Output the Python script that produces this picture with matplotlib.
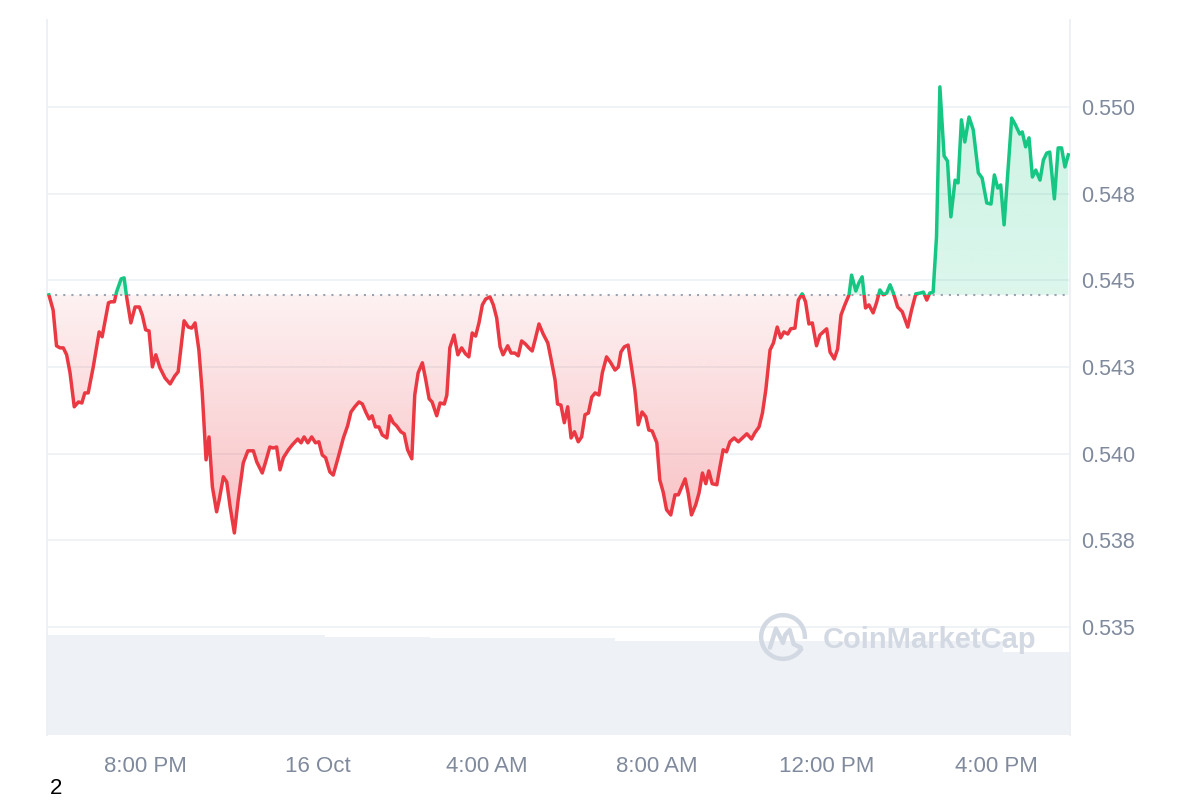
import numpy as np
import matplotlib
matplotlib.use("Agg")
import matplotlib.pyplot as plt
from matplotlib.patches import Rectangle, Arc
from matplotlib.path import Path

# time in hours since 15 Oct 00:00, price in USD
hours = [
    17.56, 17.66, 17.74, 17.82, 17.90, 17.98, 18.06, 18.16, 18.26, 18.34,
    18.41, 18.49, 18.61, 18.75, 18.82, 18.97, 19.03, 19.11, 19.16, 19.27,
    19.34, 19.40, 19.50, 19.60, 19.70, 19.77, 19.85, 19.93, 20.01, 20.09,
    20.19, 20.31, 20.43, 20.54, 20.62, 20.76, 20.86, 20.94, 21.02, 21.11,
    21.19, 21.28, 21.35, 21.43, 21.53, 21.59, 21.69, 21.77, 21.85, 21.95,
    22.04, 22.16, 22.27, 22.40, 22.48, 22.61, 22.69, 22.79, 22.87, 22.95,
    23.03, 23.11, 23.23, 23.32, 23.45, 23.53, 23.60, 23.69, 23.78, 23.87,
    23.95, 24.03, 24.11, 24.21, 24.29, 24.41, 24.53, 24.63, 24.71, 24.80,
    24.90, 24.98, 25.06, 25.14, 25.21, 25.29, 25.37, 25.45, 25.56, 25.63,
    25.71, 25.79, 25.89, 25.97, 26.05, 26.15, 26.22, 26.30, 26.40, 26.48,
    26.56, 26.63, 26.74, 26.82, 26.92, 26.98, 27.05, 27.15, 27.24, 27.33,
    27.42, 27.50, 27.58, 27.66, 27.74, 27.82, 27.90, 28.00, 28.08, 28.16,
    28.24, 28.31, 28.42, 28.50, 28.59, 28.67, 28.75, 28.84, 28.92, 29.00,
    29.08, 29.16, 29.26, 29.37, 29.46, 29.54, 29.60, 29.68, 29.76, 29.84,
    29.92, 30.00, 30.09, 30.17, 30.25, 30.33, 30.41, 30.49, 30.58, 30.66,
    30.76, 30.86, 30.96, 31.04, 31.10, 31.18, 31.27, 31.35, 31.43, 31.51,
    31.60, 31.69, 31.76, 31.84, 31.95, 32.02, 32.10, 32.18, 32.28, 32.38,
    32.46, 32.54, 32.62, 32.69, 32.77, 32.87, 32.95, 33.03, 33.11, 33.18,
    33.26, 33.37, 33.44, 33.52, 33.60, 33.68, 33.78, 33.88, 34.00, 34.08,
    34.19, 34.27, 34.37, 34.45, 34.53, 34.63, 34.71, 34.80, 34.88, 34.96,
    35.05, 35.12, 35.22, 35.30, 35.39, 35.47, 35.55, 35.63, 35.73, 35.81,
    35.97, 36.05, 36.15, 36.23, 36.31, 36.40, 36.50, 36.56, 36.66, 36.73,
    36.81, 36.89, 36.97, 37.07, 37.15, 37.23, 37.31, 37.39, 37.47, 37.55,
    37.65, 37.76, 37.89, 37.98, 38.08, 38.18, 38.26, 38.34, 38.41, 38.49,
    38.57, 38.65, 38.75, 38.83, 38.91, 39.01, 39.08, 39.16, 39.24, 39.34,
    39.44, 39.56, 39.65, 39.76, 39.86, 39.94, 40.02, 40.09, 40.17, 40.35,
    40.44, 40.54, 40.60, 40.68, 40.76, 40.84, 40.92, 41.02, 41.10, 41.18,
    41.25, 41.36, 41.45, 41.53, 41.61, 41.69,
]
price = [
    0.54458, 0.54414, 0.54311, 0.54305, 0.54305, 0.54285, 0.54233, 0.54135, 0.54149, 0.54146,
    0.54175, 0.54175, 0.54250, 0.54351, 0.54337, 0.54435, 0.54438, 0.54438, 0.54466, 0.54504,
    0.54507, 0.54452, 0.54377, 0.54423, 0.54423, 0.54400, 0.54357, 0.54354, 0.54250, 0.54285,
    0.54247, 0.54218, 0.54201, 0.54224, 0.54236, 0.54383, 0.54365, 0.54362, 0.54377, 0.54299,
    0.54175, 0.53982, 0.54048, 0.53904, 0.53832, 0.53866, 0.53933, 0.53918, 0.53846, 0.53771,
    0.53866, 0.53973, 0.54008, 0.54008, 0.53976, 0.53944, 0.53976, 0.54019, 0.54016, 0.54019,
    0.53953, 0.53988, 0.54011, 0.54025, 0.54042, 0.54031, 0.54048, 0.54031, 0.54048, 0.54031,
    0.54034, 0.53996, 0.53988, 0.53947, 0.53938, 0.53990, 0.54045, 0.54080, 0.54120, 0.54135,
    0.54149, 0.54143, 0.54120, 0.54100, 0.54109, 0.54077, 0.54077, 0.54054, 0.54045, 0.54109,
    0.54089, 0.54080, 0.54063, 0.54057, 0.54011, 0.53985, 0.54169, 0.54233, 0.54262, 0.54213,
    0.54158, 0.54149, 0.54109, 0.54146, 0.54143, 0.54169, 0.54305, 0.54342, 0.54285, 0.54305,
    0.54288, 0.54279, 0.54348, 0.54339, 0.54377, 0.54429, 0.54446, 0.54452, 0.54429, 0.54391,
    0.54308, 0.54285, 0.54311, 0.54290, 0.54290, 0.54282, 0.54325, 0.54316, 0.54305, 0.54296,
    0.54334, 0.54374, 0.54345, 0.54319, 0.54264, 0.54213, 0.54143, 0.54140, 0.54089, 0.54135,
    0.54045, 0.54063, 0.54034, 0.54048, 0.54112, 0.54117, 0.54163, 0.54175, 0.54169, 0.54233,
    0.54279, 0.54262, 0.54241, 0.54250, 0.54293, 0.54308, 0.54313, 0.54250, 0.54184, 0.54083,
    0.54120, 0.54106, 0.54068, 0.54065, 0.54031, 0.53924, 0.53889, 0.53838, 0.53823, 0.53881,
    0.53881, 0.53904, 0.53927, 0.53887, 0.53823, 0.53852, 0.53887, 0.53944, 0.53913, 0.53950,
    0.53913, 0.53910, 0.53959, 0.54011, 0.54005, 0.54034, 0.54045, 0.54034, 0.54048, 0.54057,
    0.54042, 0.54060, 0.54077, 0.54117, 0.54184, 0.54299, 0.54319, 0.54365, 0.54334, 0.54351,
    0.54345, 0.54360, 0.54362, 0.54443, 0.54461, 0.54438, 0.54374, 0.54377, 0.54311, 0.54342,
    0.54360, 0.54293, 0.54273, 0.54302, 0.54400, 0.54429, 0.54458, 0.54515, 0.54469, 0.54492,
    0.54510, 0.54420, 0.54429, 0.54406, 0.54435, 0.54472, 0.54458, 0.54463, 0.54487, 0.54463,
    0.54423, 0.54409, 0.54365, 0.54414, 0.54461, 0.54463, 0.54466, 0.54443, 0.54463, 0.54466,
    0.54625, 0.55058, 0.54859, 0.54844, 0.54683, 0.54789, 0.54781, 0.54963, 0.54899, 0.54971,
    0.54934, 0.54810, 0.54795, 0.54723, 0.54720, 0.54804, 0.54766, 0.54775, 0.54660, 0.54968,
    0.54948, 0.54922, 0.54928, 0.54885, 0.54911, 0.54798, 0.54818, 0.54789, 0.54847, 0.54867,
    0.54870, 0.54735, 0.54882, 0.54882, 0.54827, 0.54862,
]

# volume band (arbitrary units), step levels
vol_hours = [17.52, 24.09, 26.58, 30.96, 40.14, 41.73]
vol_level = [10.0, 9.8, 9.7, 9.4, 8.3, 8.3]

# label positions as they sit on the reference axis
tick_hours = [19.85, 23.92, 27.93, 31.95, 35.98, 40.0]
tick_labels = ["8:00 PM", "16 Oct", "4:00 AM", "8:00 AM", "12:00 PM", "4:00 PM"]
price_ticks = [0.535, 0.5375, 0.54, 0.5425, 0.545, 0.5475, 0.55]
price_labels = ["0.535", "0.538", "0.540", "0.543", "0.545", "0.548", "0.550"]

RED = "#ea3943"
GREEN = "#16c784"
GREY = "#808a9d"
GRID = "#eff2f5"

plt.rcParams["font.family"] = ["Liberation Sans", "DejaVu Sans"]

t = np.array(hours)
p = np.array(price)
base = p[0]
XMIN, XMAX = 17.515, 41.73
YMIN, YMAX = 0.53188, 0.55251

fig = plt.figure(figsize=(12, 8), dpi=100)
rect = [47 / 1200, 65 / 800, 1023 / 1200, 715 / 800]

# volume underneath
vax = fig.add_axes(rect)
vax.fill_between(vol_hours, vol_level, step="post", color="#eef1f5", lw=0)
vax.set_xlim(XMIN, XMAX)
vax.set_ylim(0, 71.5)
vax.axis("off")

ax = fig.add_axes(rect)
ax.patch.set_alpha(0)
ax.set_xlim(XMIN, XMAX)
ax.set_ylim(YMIN, YMAX)

# gradient fills between the line and the opening price
red_coll = ax.fill_between(t, p, base, where=p <= base, interpolate=True)
green_coll = ax.fill_between(t, p, base, where=p >= base, interpolate=True)
red_path = Path.make_compound_path(*red_coll.get_paths())
green_path = Path.make_compound_path(*green_coll.get_paths())
red_coll.remove()
green_coll.remove()

n = 256
rgba = np.zeros((n, 1, 4))
rgba[:, 0, :3] = matplotlib.colors.to_rgb(RED)
rgba[:, 0, 3] = np.linspace(0.32, 0.07, n)
img = ax.imshow(rgba, extent=[XMIN, XMAX, p.min(), base], origin="lower",
                aspect="auto", interpolation="bilinear", zorder=1)
img.set_clip_path(red_path, ax.transData)

rgba_g = np.zeros((n, 1, 4))
rgba_g[:, 0, :3] = matplotlib.colors.to_rgb(GREEN)
rgba_g[:, 0, 3] = np.linspace(0.15, 0.22, n)
img_g = ax.imshow(rgba_g, extent=[XMIN, XMAX, base, p.max()], origin="lower",
                  aspect="auto", interpolation="bilinear", zorder=1)
img_g.set_clip_path(green_path, ax.transData)

ax.set_xlim(XMIN, XMAX)
ax.set_ylim(YMIN, YMAX)

# opening price reference line
ax.axhline(base, color="#9ba3b0", lw=1.5, ls=(0, (1, 2.9)), zorder=2)

# price line, coloured by side of the opening price
above = Rectangle((XMIN, base), XMAX - XMIN, YMAX - base, transform=ax.transData)
below = Rectangle((XMIN, YMIN), XMAX - XMIN, base - YMIN, transform=ax.transData)
lg, = ax.plot(t, p, color=GREEN, lw=2.5, solid_joinstyle="round", zorder=3)
lg.set_clip_path(above)
lr, = ax.plot(t, p, color=RED, lw=2.5, solid_joinstyle="round", zorder=3)
lr.set_clip_path(below)

# axes styling
ax.set_yticks(price_ticks)
ax.set_yticklabels(price_labels)
ax.yaxis.tick_right()
ax.set_xticks(tick_hours)
ax.set_xticklabels(tick_labels)
ax.yaxis.grid(True, color=GRID, lw=1.3)
ax.set_axisbelow(True)
ax.tick_params(axis="y", length=0, pad=8, labelsize=15.5, labelcolor=GREY)
ax.tick_params(axis="x", length=0, pad=15, labelsize=16, labelcolor=GREY)
for side in ("top", "bottom"):
    ax.spines[side].set_visible(False)
for side in ("left", "right"):
    ax.spines[side].set_color("#eceff3")
    ax.spines[side].set_linewidth(1.3)

# watermark
wm = "#d3d9e3"
fig.text(823 / 1200, 1 - 640 / 800, "CoinMarketCap", color=wm, fontsize=21,
         fontweight="bold", ha="left", va="center")
lax = fig.add_axes([757 / 1200, 1 - 663 / 800, 52 / 1200, 52 / 800])
lax.set_xlim(-1.1, 1.1)
lax.set_ylim(-1.1, 1.1)
lax.set_aspect("equal")
lax.axis("off")
lax.add_patch(Arc((0, 0), 1.85, 1.85, theta1=-5, theta2=330, color=wm, lw=3.2))
lax.plot([-0.55, -0.3, 0.0, 0.1, 0.28, 0.45, 0.75],
         [-0.45, 0.35, -0.25, 0.1, 0.3, -0.3, -0.45],
         color=wm, lw=3.2, solid_joinstyle="round", solid_capstyle="round")

fig.text(50 / 1200, 1 - 788 / 800, "2", fontsize=16, color="black",
         ha="left", va="center")

fig.savefig("out.png", dpi=100)
